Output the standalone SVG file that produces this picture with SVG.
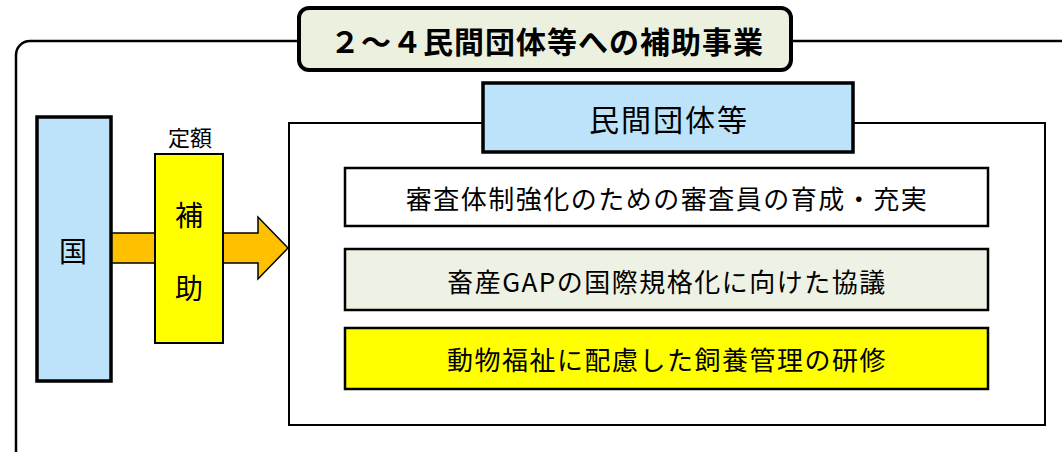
<svg xmlns="http://www.w3.org/2000/svg" width="1062" height="452" viewBox="0 0 1062 452">
<style>
text{font-family:"Noto Sans CJK JP","Liberation Sans",sans-serif;fill:#000;text-anchor:middle;dominant-baseline:central}
.box{stroke:#000;stroke-width:2.5}
.item{font-size:26px;letter-spacing:1.5px}
</style>
<rect width="1062" height="452" fill="#fff"/>
<g id="frame">
<rect x="16" y="41" width="1080" height="440" rx="14" fill="none" stroke="#000" stroke-width="2.5"/>
</g>
<g id="title">
<rect x="299" y="8" width="492" height="62" rx="10" fill="#EBF1DE" stroke="#000" stroke-width="4"/>
<text x="547" y="40" font-size="30" font-weight="bold" letter-spacing="1">２～４民間団体等への補助事業</text>
</g>
<g id="connectors">
<polygon points="111,233 258,233 258,217 288,248 258,279 258,263 111,263" fill="#FFC000" stroke="#000" stroke-width="1.5"/>
</g>
<g id="kuni">
<rect x="37" y="117" width="74" height="264" fill="#BDE3FB" stroke="#000" stroke-width="3.5"/>
<text x="73" y="250" font-size="28">国</text>
</g>
<g id="hojo">
<text x="190" y="136" font-size="22">定額</text>
<rect x="155" y="154" width="68" height="189" fill="#FFFF00" stroke="#000" stroke-width="2"/>
<text x="189" y="214" font-size="28">補</text>
<text x="189" y="287" font-size="28">助</text>
</g>
<g id="panel">
<rect x="289" y="123" width="756" height="302" fill="#fff" stroke="#000" stroke-width="2"/>
</g>
<g id="minkan">
<rect x="483" y="83" width="370" height="69" fill="#BDE3FB" stroke="#000" stroke-width="3.5"/>
<text x="669" y="118" font-size="30" letter-spacing="2">民間団体等</text>
</g>
<g id="item1">
<rect x="345" y="168" width="643" height="58" fill="#fff" class="box"/>
<text x="667" y="197" class="item" letter-spacing="1.2">審査体制強化のための審査員の育成・充実</text>
</g>
<g id="item2">
<rect x="345" y="249" width="643" height="61" fill="#EEF2E4" class="box"/>
<text x="667" y="280" class="item">畜産GAPの国際規格化に向けた協議</text>
</g>
<g id="item3">
<rect x="345" y="328" width="643" height="61" fill="#FFFF00" class="box"/>
<text x="667" y="358" class="item">動物福祉に配慮した飼養管理の研修</text>
</g>
</svg>
